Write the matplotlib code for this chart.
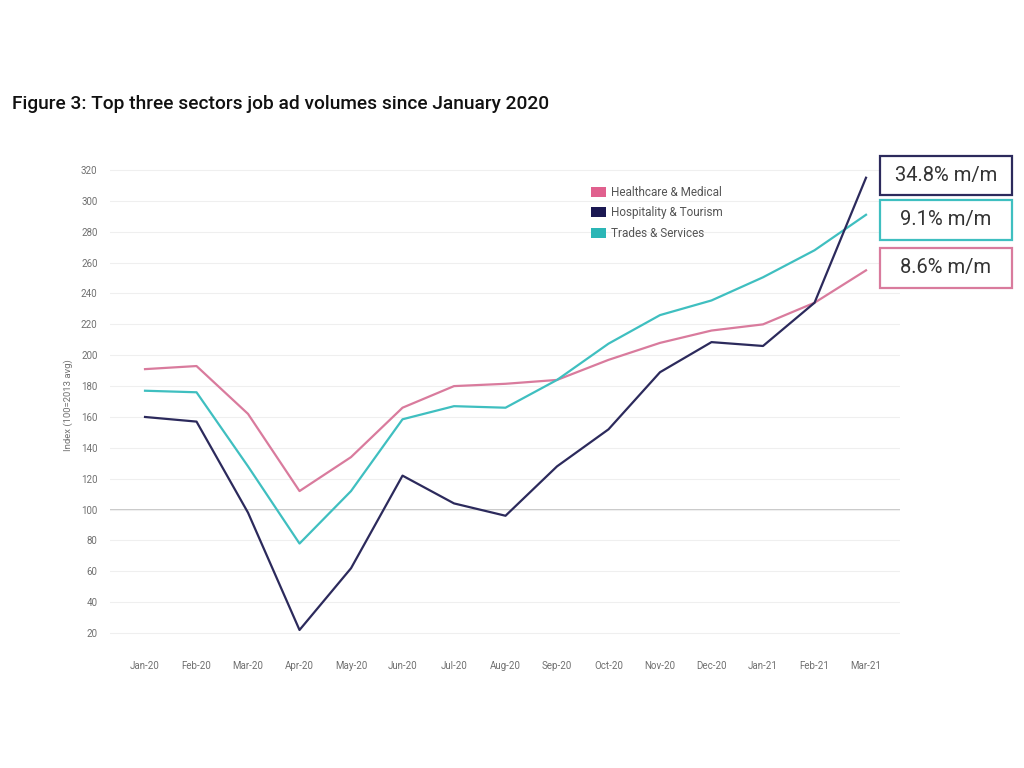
import matplotlib
matplotlib.use("Agg")
import matplotlib.pyplot as plt
from matplotlib.patches import Patch, Rectangle

months = ["Jan-20", "Feb-20", "Mar-20", "Apr-20", "May-20", "Jun-20", "Jul-20", "Aug-20",
          "Sep-20", "Oct-20", "Nov-20", "Dec-20", "Jan-21", "Feb-21", "Mar-21"]
healthcare = [191, 193, 162, 112, 134, 166, 180, 181.5, 184, 197, 208, 216, 220, 234, 255]
hospitality = [160, 157, 98, 22, 62, 122, 104, 96, 128, 152, 189, 208.5, 206, 234, 315]
trades = [177, 176, 128, 78, 112, 158.5, 167, 166, 184, 207.5, 226, 235.5, 250.5, 268, 291]
series_names = ["Healthcare & Medical", "Hospitality & Tourism", "Trades & Services"]
annotations = ["34.8% m/m", "9.1% m/m", "8.6% m/m"]
yticks = list(range(20, 321, 20))

c_pink = "#d97b9d"
c_navy = "#2c2a5c"
c_teal = "#3fbfc0"

plt.rcParams['font.family'] = ['Roboto', 'DejaVu Sans']
fig = plt.figure(figsize=(10.24, 7.68), dpi=100)
W, H = 1024, 768
def fx(px): return px / W
def fy(py): return 1 - py / H

ax = fig.add_axes([fx(110), fy(648.5), fx(900) - fx(110), fy(162.3) - fy(648.5)])
x = list(range(len(months)))
ax.plot(x, healthcare, color=c_pink, lw=1.6, zorder=3)
ax.plot(x, hospitality, color=c_navy, lw=1.6, zorder=4)
ax.plot(x, trades, color=c_teal, lw=1.6, zorder=3)

ax.set_xlim(-0.68, 14.66)
ax.set_ylim(10, 325)
ax.set_yticks(yticks)
ax.set_xticks(x)
ax.set_xticklabels(months)
for s in ax.spines.values():
    s.set_visible(False)
ax.grid(axis='y', color='#efefef', lw=0.8, zorder=0)
ax.axhline(100, color='#c4c4c4', lw=1.3, zorder=1)
ax.tick_params(axis='both', length=0, labelsize=7, labelcolor='#707070')
ax.tick_params(axis='y', pad=9)
ax.tick_params(axis='x', pad=9)
ax.set_ylabel("Index (100=2013 avg)", fontsize=6.8, color='#707070', labelpad=6)

handles = [Patch(facecolor="#e0608e", edgecolor='none'),
           Patch(facecolor="#1b1852", edgecolor='none'),
           Patch(facecolor="#2bb6b6", edgecolor='none')]
fig.legend(handles, series_names, loc='upper left', bbox_to_anchor=(fx(591), fy(186)),
           frameon=False, fontsize=8.5, labelcolor='#555555', handlelength=1.27,
           handleheight=0.93, handletextpad=0.4, labelspacing=0.62, borderpad=0, borderaxespad=0)

fig.text(fx(12), fy(104), "Figure 3: Top three sectors job ad volumes since January 2020",
         fontsize=13.8, fontweight='medium', color='#111111', ha='left', va='center')

boxes = [(156, 195, c_navy), (200, 240, c_teal), (248, 288, c_pink)]
for (top, bot, col), txt in zip(boxes, annotations):
    fig.add_artist(Rectangle((fx(880), fy(bot)), fx(1012) - fx(880), fy(top) - fy(bot),
                             transform=fig.transFigure, facecolor='white', edgecolor=col, lw=1.6))
    fig.text(fx(946), fy((top + bot) / 2), txt, fontsize=14.5, color='#333333',
             ha='center', va='center')

fig.savefig("out.png", dpi=100, facecolor='white')
